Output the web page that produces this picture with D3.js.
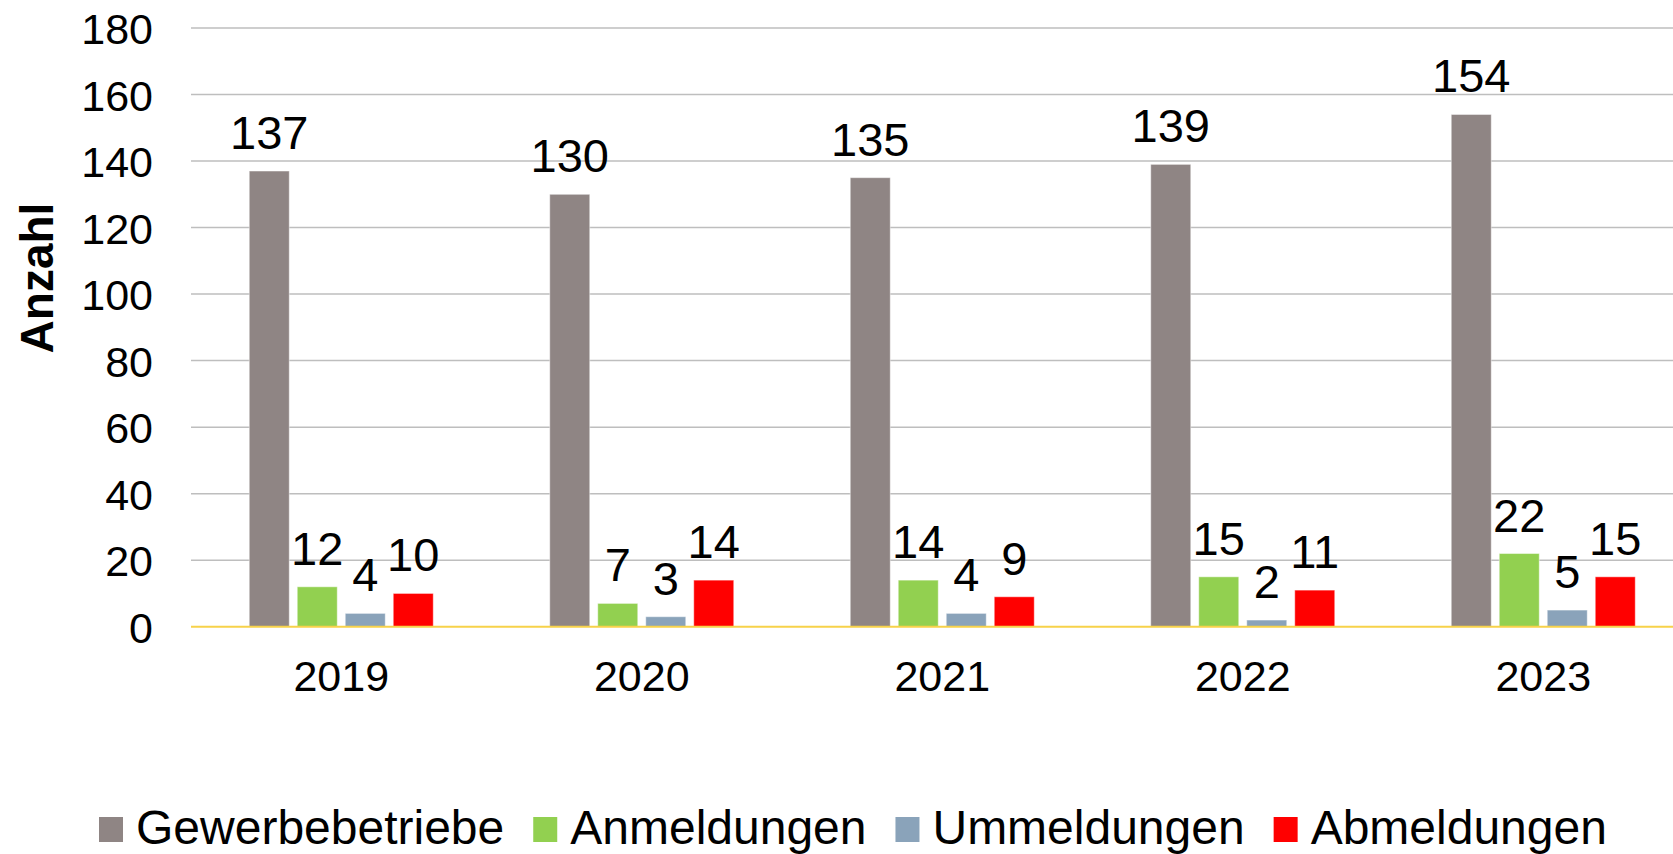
<!DOCTYPE html>
<html>
<head>
<meta charset="utf-8">
<script src="https://cdn.jsdelivr.net/npm/d3@7"></script>
<style>
  body { margin: 0; background: #fff; overflow: hidden; }
  text { font-family: "Liberation Sans", Arial, sans-serif; fill: #000; }
</style>
</head>
<body>
<div id="chart"></div>
<script>
var years = ["2019", "2020", "2021", "2022", "2023"];
var seriesNames = ["Gewerbebetriebe", "Anmeldungen", "Ummeldungen", "Abmeldungen"];
var seriesColors = ["#8F8584", "#92D050", "#8AA3BA", "#FF0000"];
var gewerbebetriebe = [137, 130, 135, 139, 154];
var anmeldungen = [12, 7, 14, 15, 22];
var ummeldungen = [4, 3, 4, 2, 5];
var abmeldungen = [10, 14, 9, 11, 15];
var yTicks = [0, 20, 40, 60, 80, 100, 120, 140, 160, 180];

var seriesValues = [gewerbebetriebe, anmeldungen, ummeldungen, abmeldungen];

var outerWidth = 1673,
    outerHeight = 854,
    plot = {left: 191, right: 1693.5, top: 28, bottom: 626.7};

var svg = d3.select("#chart")
    .append("svg")
    .attr("width", outerWidth)
    .attr("height", outerHeight);

var x0 = d3.scaleBand()
    .domain(years)
    .range([plot.left, plot.right]);

var groupWidth = 184;
var x1 = d3.scaleBand()
    .domain(seriesNames)
    .range([0, groupWidth])
    .paddingInner(8 / 48);

var y = d3.scaleLinear()
    .domain([0, 180])
    .range([plot.bottom, plot.top]);

// gridlines
svg.append("g")
    .selectAll("line")
    .data(yTicks.filter(function (d) { return d > 0; }))
    .enter()
    .append("line")
    .attr("x1", plot.left)
    .attr("x2", outerWidth)
    .attr("y1", function (d) { return y(d); })
    .attr("y2", function (d) { return y(d); })
    .attr("stroke", "#BEBEBE")
    .attr("stroke-width", 1.5);

// y tick labels
var yAxis = d3.axisLeft(y).tickValues(yTicks).tickSize(0).tickPadding(0);
var gy = svg.append("g")
    .attr("transform", "translate(153,0)")
    .call(yAxis);
gy.select(".domain").remove();
gy.selectAll("text")
    .attr("font-family", "Liberation Sans, Arial, sans-serif")
    .attr("font-size", 43)
    .attr("fill", "#000")
    .attr("dy", "0.36em");

// y axis title
svg.append("text")
    .attr("transform", "translate(53,278) rotate(-90)")
    .attr("text-anchor", "middle")
    .attr("font-size", 46)
    .attr("font-weight", "bold")
    .text("Anzahl");

// bars
var groups = svg.append("g")
    .selectAll("g")
    .data(years)
    .enter()
    .append("g")
    .attr("transform", function (d) {
        return "translate(" + (x0(d) + x0.bandwidth() / 2 - groupWidth / 2) + ",0)";
    });

groups.selectAll("rect")
    .data(function (d, i) {
        return seriesNames.map(function (s, k) {
            return {series: s, k: k, value: seriesValues[k][i]};
        });
    })
    .enter()
    .append("rect")
    .attr("x", function (d) { return x1(d.series); })
    .attr("width", x1.bandwidth())
    .attr("y", function (d) { return y(d.value); })
    .attr("height", function (d) { return y(0) - y(d.value); })
    .attr("fill", function (d) { return seriesColors[d.k]; })
    .attr("stroke", "rgba(255,255,255,0.45)")
    .attr("stroke-width", 1);

groups.selectAll("text.label")
    .data(function (d, i) {
        return seriesNames.map(function (s, k) {
            return {series: s, k: k, value: seriesValues[k][i]};
        });
    })
    .enter()
    .append("text")
    .attr("class", "label")
    .attr("x", function (d) { return x1(d.series) + x1.bandwidth() / 2; })
    .attr("y", function (d) { return y(d.value) - 22; })
    .attr("text-anchor", "middle")
    .attr("font-size", 47)
    .text(function (d) { return d.value; });

// zero line
svg.append("line")
    .attr("x1", plot.left)
    .attr("x2", outerWidth)
    .attr("y1", y(0))
    .attr("y2", y(0))
    .attr("stroke", "#F7D24A")
    .attr("stroke-width", 2);

// x axis labels
var xAxis = d3.axisBottom(x0).tickSize(0).tickPadding(0);
var gx = svg.append("g")
    .attr("transform", "translate(0,691)")
    .call(xAxis);
gx.select(".domain").remove();
gx.selectAll("text")
    .attr("font-family", "Liberation Sans, Arial, sans-serif")
    .attr("font-size", 43)
    .attr("fill", "#000")
    .attr("dy", 0);

// legend
var legend = svg.append("g");
var lx = 99;
seriesNames.forEach(function (name, k) {
    legend.append("rect")
        .attr("x", lx)
        .attr("y", 817)
        .attr("width", 24)
        .attr("height", 25)
        .attr("fill", seriesColors[k]);
    var t = legend.append("text")
        .attr("x", lx + 37)
        .attr("y", 844)
        .attr("font-size", 48)
        .text(name);
    lx = lx + 37 + t.node().getComputedTextLength() + 29;
});
</script>
</body>
</html>
